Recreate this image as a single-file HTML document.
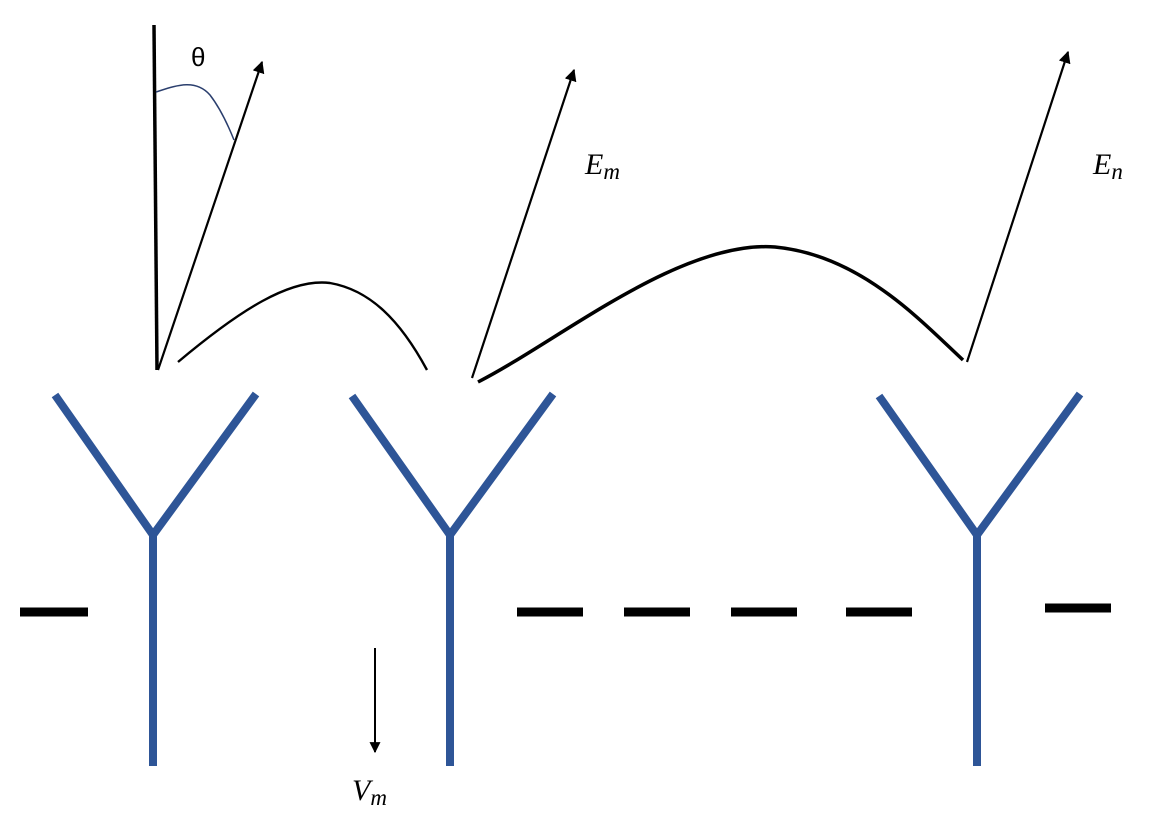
<!DOCTYPE html>
<html><head><meta charset="utf-8"><style>
html,body{margin:0;padding:0;background:#fff;}
svg{display:block}
text{font-family:"Liberation Serif",serif;font-style:italic;fill:#000}
</style></head><body>
<svg width="1158" height="834" viewBox="0 0 1158 834" xmlns="http://www.w3.org/2000/svg">
<defs>
<marker id="ah" viewBox="0 0 10 10" refX="9" refY="5" markerWidth="5.5" markerHeight="5.5" orient="auto"><path d="M0,0 L10,5 L0,10 z" fill="#000"/></marker>
</defs>
<line x1="154" y1="25" x2="157" y2="370" stroke="#000" stroke-width="3.5"/>
<line x1="158" y1="370" x2="262" y2="62" stroke="#000" stroke-width="2.2" marker-end="url(#ah)"/>
<path d="M156,92 C175,86 195,78 210,95 C220,108 228,125 234,140" fill="none" stroke="#2b3f6e" stroke-width="1.5"/>
<text x="191" y="66" style="font-style:normal;font-family:'Liberation Sans',sans-serif" font-size="26">θ</text>
<line x1="472" y1="378" x2="574" y2="70" stroke="#000" stroke-width="2.2" marker-end="url(#ah)"/>
<line x1="967" y1="362" x2="1068" y2="52" stroke="#000" stroke-width="2.2" marker-end="url(#ah)"/>
<path d="M178,362 C240,310 290,278 330,283 C370,290 400,320 427,370" fill="none" stroke="#000" stroke-width="2.4"/>
<path d="M478,382 C560,340 680,240 775,247 C860,255 920,320 963,360" fill="none" stroke="#000" stroke-width="3.5"/>
<text x="585" y="174" font-size="30">E<tspan font-size="23" dy="5">m</tspan></text>
<text x="1093" y="174" font-size="30">E<tspan font-size="23" dy="5">n</tspan></text>
<g stroke="#2E5597" stroke-width="8" fill="none" stroke-linejoin="miter">
<polyline points="55,395 153,535 256,394"/><line x1="153" y1="535" x2="153" y2="766"/>
<polyline points="352,396 450,535 553,394"/><line x1="450" y1="535" x2="450" y2="766"/>
<polyline points="879,396 977,535 1080,394"/><line x1="977" y1="535" x2="977" y2="766"/>
</g>
<g stroke="#000" stroke-width="9">
<line x1="20" y1="612" x2="88" y2="612"/>
<line x1="517" y1="612" x2="583" y2="612"/>
<line x1="624" y1="612" x2="690" y2="612"/>
<line x1="731" y1="612" x2="797" y2="612"/>
<line x1="846" y1="612" x2="912" y2="612"/>
<line x1="1045" y1="608" x2="1111" y2="608"/>
</g>
<line x1="375" y1="648" x2="375" y2="752" stroke="#000" stroke-width="2" marker-end="url(#ah)"/>
<text x="352" y="800" font-size="30">V<tspan font-size="23" dy="5">m</tspan></text>
</svg>
</body></html>
